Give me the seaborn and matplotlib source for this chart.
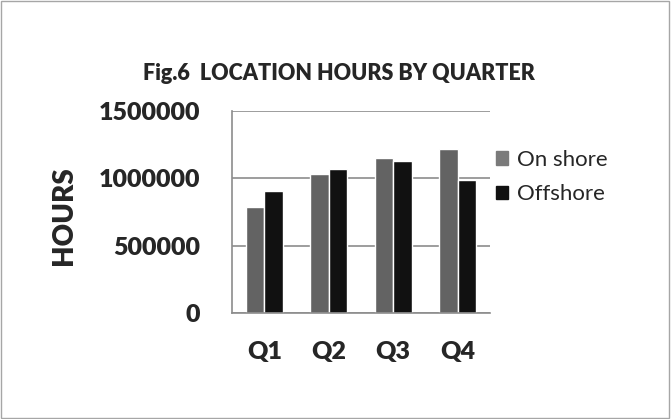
import pandas as pd
import seaborn as sns
from matplotlib import pyplot as plt
from matplotlib.patches import Rectangle

quarters = ["Q1", "Q2", "Q3", "Q4"]
on_shore = [790000, 1035000, 1147000, 1213000]
offshore = [905000, 1067000, 1131000, 987000]
series_names = ["On shore", "Offshore"]
y_ticks = [0, 500000, 1000000, 1500000]

df = pd.DataFrame({
    "quarter": quarters * 2,
    "hours": on_shore + offshore,
    "location": [series_names[0]] * 4 + [series_names[1]] * 4,
})

sns.set_style("white")
plt.rcParams["font.family"] = ["Lato", "DejaVu Sans"]
W = "heavy"

fig = plt.figure(figsize=(6.72, 4.19), dpi=100)
ax = fig.add_axes([232 / 672, 1 - 313.3 / 419, (490 - 232) / 672, (313.3 - 110.7) / 419])

sns.barplot(data=df, x="quarter", y="hours", hue="location",
            palette=["#636363", "#111111"], width=0.58, saturation=1,
            ax=ax, legend=False)

ax.set_ylim(0, 1500000)
ax.set_yticks(y_ticks)
ax.set_yticklabels([str(v) for v in y_ticks], fontsize=18, fontweight=W)
ax.set_xticks(range(len(quarters)))
ax.set_xticklabels(quarters, fontsize=18, fontweight=W)
ax.set_xlim(-0.5, 3.5)
ax.set_xlabel("")
ax.set_ylabel("")
ax.yaxis.grid(True, color="#8c8c8c", linewidth=1.2)
ax.set_axisbelow(True)
for s in ["top", "right"]:
    ax.spines[s].set_visible(False)
for s in ["left", "bottom"]:
    ax.spines[s].set_color("#8c8c8c")
    ax.spines[s].set_linewidth(1.2)
ax.tick_params(axis="y", length=9, color="#8c8c8c", width=1.2, pad=14)
ax.tick_params(axis="x", length=0, pad=20)

fig.text(64 / 672, 1 - 216 / 419, "HOURS", rotation=90,
         ha="center", va="center", fontsize=20, fontweight=W)
fig.text(0.504, 1 - 73 / 419, "Fig.6  LOCATION HOURS BY QUARTER",
         ha="center", va="center", fontsize=15.5, fontweight=W)

# legend
handles = [Rectangle((0, 0), 1, 1, color=c) for c in ["#7a7a7a", "#111111"]]
fig.legend(handles, series_names, loc="upper left",
           bbox_to_anchor=(476 / 672, 1 - 130 / 419), frameon=False,
           fontsize=16, handlelength=0.55, handleheight=0.55,
           handletextpad=0.4, labelspacing=0.65)

# outer border
fig.patches.append(Rectangle((0.002, 0.003), 0.994, 0.994, transform=fig.transFigure,
                             fill=False, edgecolor="#a6a6a6", linewidth=1))

fig.savefig("out.png", dpi=100)
